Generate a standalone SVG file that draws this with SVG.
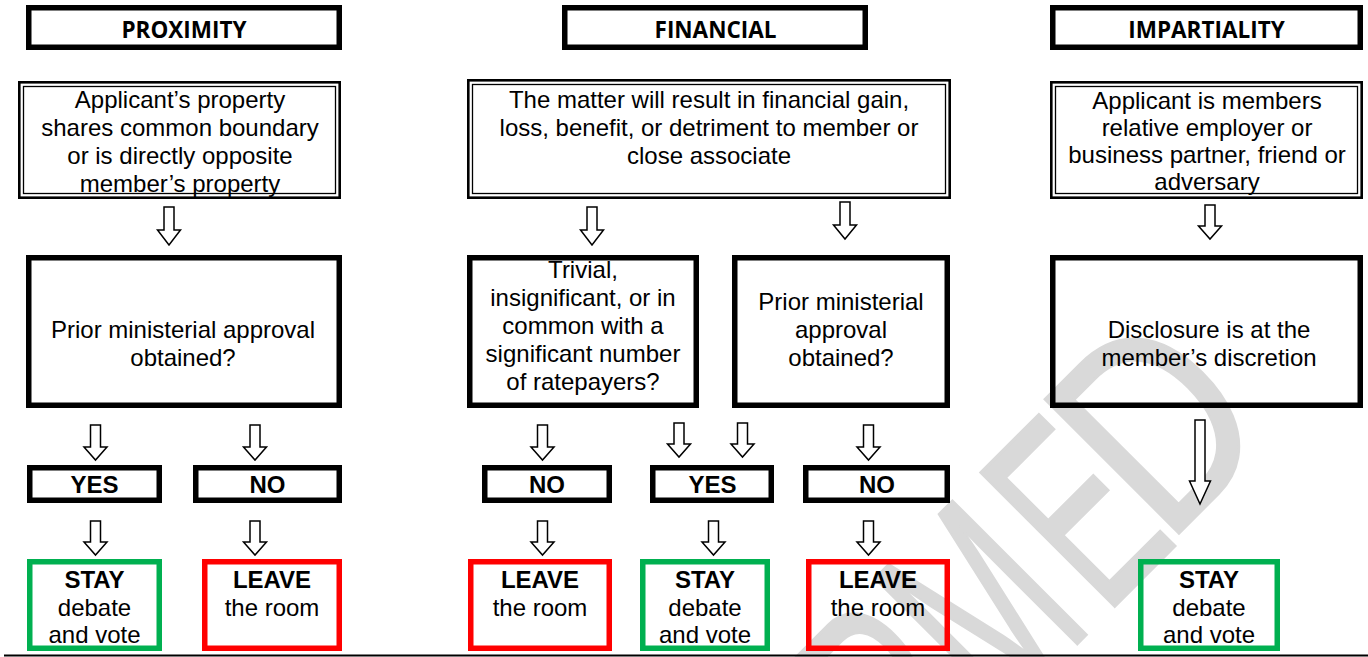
<svg xmlns="http://www.w3.org/2000/svg" width="1368" height="657" viewBox="0 0 1368 657">
<style>
.hdr{fill:none;stroke:#000;stroke-width:5.5}
.q1{fill:none;stroke:#000;stroke-width:2.6}
.q2{fill:none;stroke:#000;stroke-width:1.3}
.box{fill:none;stroke:#000;stroke-width:5.5}
.stay{fill:none;stroke:#00b050;stroke-width:5.5}
.leave{fill:none;stroke:#ff0000;stroke-width:5.5}
.arr{fill:#fff;stroke:#000;stroke-width:1.5;stroke-linejoin:miter}
text{font-family:"Liberation Sans",Arial,sans-serif;font-size:24px;fill:#000;text-anchor:middle}
.ht{font-family:"Open Sans","Noto Sans",sans-serif;font-weight:700;font-size:22.5px}
.b{font-weight:700}
.wm text{fill:#d9d9d9;stroke:#d9d9d9;stroke-width:3;font-size:275px;text-anchor:start}
</style>
<rect width="1368" height="657" fill="#fff"/>
<g id="watermark" class="wm">
<text transform="translate(915,806) rotate(-45) scale(0.6,1)">R</text>
<text transform="translate(999,722) rotate(-45) scale(0.6,1)">M</text>
<text transform="translate(1105,616) rotate(-45) scale(0.58,1)">E</text>
<text transform="translate(1166,546) rotate(-45) scale(0.8,1)">D</text>
</g>
<g id="connectors">
<path class="arr" d="M164,207H174V230H180.5L169,245L157.5,230H164Z"/>
<path class="arr" d="M587,207H597V230H603.5L592,245L580.5,230H587Z"/>
<path class="arr" d="M840,202H850V225H856.5L845,239L833.5,225H840Z"/>
<path class="arr" d="M1205,205H1215V226H1221.5L1210,239L1198.5,226H1205Z"/>
<path class="arr" d="M90.5,425H100.5V447H107L95.5,460L84,447H90.5Z"/>
<path class="arr" d="M250,425H260V447H266.5L255,460L243.5,447H250Z"/>
<path class="arr" d="M537.5,425H547.5V447H554L542.5,460L531,447H537.5Z"/>
<path class="arr" d="M674,423H684V444H690.5L679,457L667.5,444H674Z"/>
<path class="arr" d="M737.5,423H747.5V444H754L742.5,457L731,444H737.5Z"/>
<path class="arr" d="M863.5,425H873.5V447H880L868.5,460L857,447H863.5Z"/>
<path class="arr" d="M90.5,521H100.5V542H107L95.5,555L84,542H90.5Z"/>
<path class="arr" d="M250,521H260V542H266.5L255,555L243.5,542H250Z"/>
<path class="arr" d="M537.5,521H547.5V542H554L542.5,555L531,542H537.5Z"/>
<path class="arr" d="M708.5,521H718.5V542H725L713.5,555L702,542H708.5Z"/>
<path class="arr" d="M863.5,521H873.5V542H880L868.5,555L857,542H863.5Z"/>
<path class="arr" d="M1195,420H1205V481H1210.5L1200,504L1189.5,481H1195Z"/>
</g>
<g id="hdr-proximity">
<rect class="hdr" x="28.75" y="7.75" width="310.5" height="39.5"/>
<text class="ht" x="184" y="38.3">PROXIMITY</text>
</g>
<g id="hdr-financial">
<rect class="hdr" x="564.75" y="7.75" width="300.5" height="39.5"/>
<text class="ht" x="715.5" y="38.3">FINANCIAL</text>
</g>
<g id="hdr-impartiality">
<rect class="hdr" x="1052.75" y="7.75" width="307.5" height="39.5"/>
<text class="ht" x="1206.5" y="38.3">IMPARTIALITY</text>
</g>
<g id="q-proximity">
<rect class="q1" x="19.3" y="82.3" width="320.4" height="115.4"/>
<rect class="q2" x="23.5" y="86.5" width="312" height="107"/>
<text x="180" y="107.5">Applicant’s property</text>
<text x="180" y="135.5">shares common boundary</text>
<text x="180" y="163.5">or is directly opposite</text>
<text x="180" y="191.5">member’s property</text>
</g>
<g id="q-financial">
<rect class="q1" x="468.3" y="80.3" width="481.4" height="117.4"/>
<rect class="q2" x="472.5" y="84.5" width="473" height="109"/>
<text x="709" y="108">The matter will result in financial gain,</text>
<text x="709" y="136">loss, benefit, or detriment to member or</text>
<text x="709" y="164">close associate</text>
</g>
<g id="q-impartiality">
<rect class="q1" x="1051.3" y="82.3" width="310.4" height="115.4"/>
<rect class="q2" x="1055.5" y="86.5" width="302" height="107"/>
<text x="1207" y="109">Applicant is members</text>
<text x="1207" y="136">relative employer or</text>
<text x="1207" y="163">business partner, friend or</text>
<text x="1207" y="190">adversary</text>
</g>
<g id="prox-prior">
<rect class="box" x="28.75" y="257.75" width="310.5" height="147.5"/>
<text x="183" y="338">Prior ministerial approval</text>
<text x="183" y="366">obtained?</text>
</g>
<g id="fin-trivial">
<rect class="box" x="469.75" y="257.75" width="226.5" height="147.5"/>
<text x="583" y="278">Trivial,</text>
<text x="583" y="306">insignificant, or in</text>
<text x="583" y="334">common with a</text>
<text x="583" y="362">significant number</text>
<text x="583" y="390">of ratepayers?</text>
</g>
<g id="fin-prior">
<rect class="box" x="734.75" y="257.75" width="212.5" height="147.5"/>
<text x="841" y="310">Prior ministerial</text>
<text x="841" y="338">approval</text>
<text x="841" y="366">obtained?</text>
</g>
<g id="imp-disclosure">
<rect class="box" x="1052.75" y="257.75" width="307.5" height="147.5"/>
<text x="1209" y="338">Disclosure is at the</text>
<text x="1209" y="366">member’s discretion</text>
</g>
<g id="prox-yes">
<rect class="box" x="29.75" y="467.75" width="129.5" height="32.5"/>
<text class="b" x="94.5" y="493">YES</text>
</g>
<g id="prox-no">
<rect class="box" x="195.75" y="467.75" width="143.5" height="32.5"/>
<text class="b" x="267.5" y="493">NO</text>
</g>
<g id="fin-no-1">
<rect class="box" x="484.75" y="467.75" width="124.5" height="32.5"/>
<text class="b" x="547" y="493">NO</text>
</g>
<g id="fin-yes">
<rect class="box" x="652.75" y="467.75" width="118.5" height="32.5"/>
<text class="b" x="712.5" y="493">YES</text>
</g>
<g id="fin-no-2">
<rect class="box" x="805.75" y="467.75" width="141.5" height="32.5"/>
<text class="b" x="877" y="493">NO</text>
</g>
<g id="prox-stay">
<rect class="stay" x="29.75" y="561.75" width="129.5" height="86.5"/>
<text class="b" x="94.5" y="588">STAY</text>
<text x="94.5" y="615.5">debate</text>
<text x="94.5" y="643">and vote</text>
</g>
<g id="prox-leave">
<rect class="leave" x="204.75" y="561.75" width="134.5" height="86.5"/>
<text class="b" x="272" y="588">LEAVE</text>
<text x="272" y="615.5">the room</text>
</g>
<g id="fin-leave-1">
<rect class="leave" x="470.75" y="561.75" width="138.5" height="86.5"/>
<text class="b" x="540" y="588">LEAVE</text>
<text x="540" y="615.5">the room</text>
</g>
<g id="fin-stay">
<rect class="stay" x="642.75" y="561.75" width="124.5" height="86.5"/>
<text class="b" x="705" y="588">STAY</text>
<text x="705" y="615.5">debate</text>
<text x="705" y="643">and vote</text>
</g>
<g id="fin-leave-2">
<rect class="leave" x="808.75" y="561.75" width="138.5" height="86.5"/>
<text class="b" x="878" y="588">LEAVE</text>
<text x="878" y="615.5">the room</text>
</g>
<g id="imp-stay">
<rect class="stay" x="1140.75" y="561.75" width="136.5" height="86.5"/>
<text class="b" x="1209" y="588">STAY</text>
<text x="1209" y="615.5">debate</text>
<text x="1209" y="643">and vote</text>
</g>
<line x1="4" y1="655.5" x2="1368" y2="655.5" stroke="#000" stroke-width="2"/>
</svg>
